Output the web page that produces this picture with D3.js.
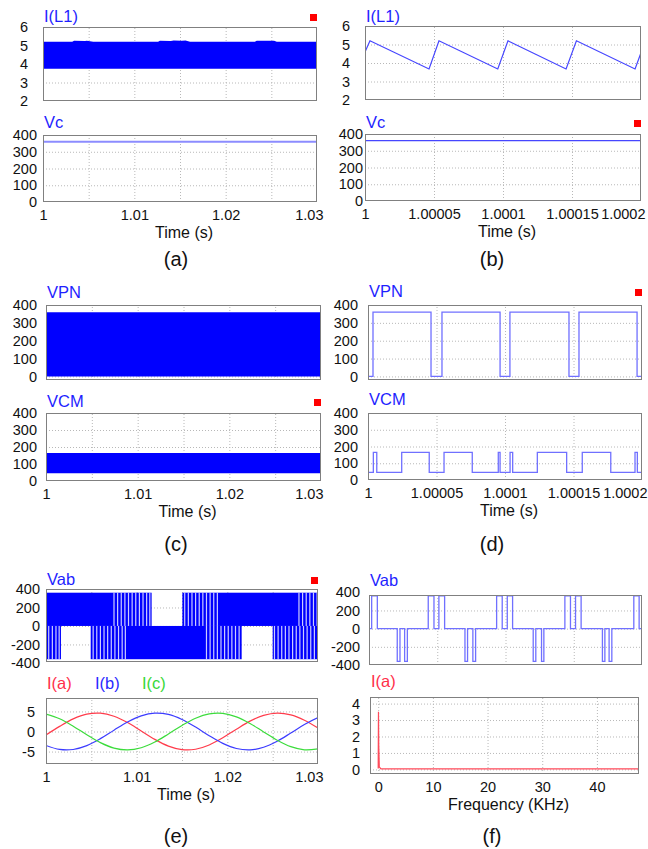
<!DOCTYPE html>
<html>
<head>
<meta charset="utf-8">
<script src="https://cdn.jsdelivr.net/npm/d3@7"></script>
<style>
    body { margin: 0; background: #fff; }
    svg { display: block; }
    text { font-family: Arial, "Liberation Sans", sans-serif; }
</style>
</head>
<body>
<svg id="chart" width="648" height="849"></svg>
<script>
'use strict';

// ---------- axes ----------
// long window: time in ms after t = 1 s
const longTickMs = [0, 10, 20, 30];
const longTickLabels = ['1', '1.01', '1.02', '1.03'];
const longGridMs = [5, 10, 15, 20, 25];
// short window: time in us after t = 1 s
const shortTickUs = [0, 50, 100, 150, 200];
const shortTickLabels = ['1', '1.00005', '1.0001', '1.00015', '1.0002'];
const shortGridUs = [50, 100, 150];
// spectrum axis, kHz
const freqTicks = [0, 10, 20, 30, 40];
const freqLabels = ['0', '10', '20', '30', '40'];

// ---------- (a) ----------
// I(L1) ripple band over 30 ms (upper edge, lower edge is flat)
const iL1BandMs = [0, 3.2, 3.4, 4.6, 4.8, 5.5, 12.6, 12.8, 14.0, 14.3, 15.2, 15.6, 16.1, 23.2, 23.4, 25.3, 25.6, 30];
const iL1BandHi = [5.2, 5.2, 5.26, 5.25, 5.26, 5.2, 5.2, 5.26, 5.25, 5.27, 5.26, 5.27, 5.2, 5.2, 5.26, 5.26, 5.2, 5.2];
const iL1BandLo = 3.75;
const vcLongMs = [0, 30];
const vcLong = [360, 360];

// ---------- (b) ----------
const iL1SawUs = [0, 3.6, 46.4, 53.6, 96.2, 103.6, 145.7, 153.2, 195.7, 200];
const iL1Saw = [4.6, 5.2, 3.68, 5.2, 3.68, 5.2, 3.68, 5.2, 3.68, 4.55];
const vcShortUs = [0, 200];
const vcShort = [360, 360];

// ---------- (c) ----------
const vpnBandMs = [0, 30];
const vpnBandLo = [0, 0];
const vpnBandHi = [360, 360];
const vcmBandMs = [0, 30];
const vcmBandLo = [45, 45];
const vcmBandHi = [165, 165];

// ---------- (d) step signals: level holds from each edge to the next ----------
const vpnEdgesUs = [0, 3.65, 46, 54, 96.4, 103.6, 146.7, 154, 196.4, 200];
const vpnLevels = [0, 360, 0, 360, 0, 360, 0, 360, 0, 0];
const vcmEdgesUs = [0, 3.9, 6.4, 24.6, 44.7, 55.5, 76.1, 95.1, 96.4, 103.7, 105.6, 123.6, 145, 156.4, 177.2, 194.9, 196.6, 200];
const vcmLevels = [45, 165, 45, 165, 45, 165, 45, 165, 45, 165, 45, 165, 45, 165, 45, 165, 45, 45];

// ---------- (e) ----------
// Vab PWM: spans where the +360 / -360 pulses are present (ms)
const vabLevel = 360;
const vabPosOn = [[0, 11.65], [15.04, 30]];
const vabNegOn = [[0, 1.65], [4.93, 21.58], [25.0, 30]];
// visible white gaps inside the pulse trains (ms)
const vabPosGaps = [7.5, 7.9, 8.3, 8.7, 9.1, 9.5, 9.9, 10.3, 10.7, 11.1, 11.45,
    15.3, 15.7, 16.1, 16.5, 16.9, 17.3, 17.7, 18.1, 18.5, 18.9,
    27.9, 28.3, 28.7, 29.1, 29.5, 29.9];
const vabNegGaps = [0.3, 0.7, 1.1, 1.45,
    5.2, 5.6, 6.0, 6.4, 6.8, 7.2, 7.6, 8.0, 8.4, 8.75,
    17.7, 18.1, 18.5, 18.9, 19.3, 19.7, 20.1, 20.5, 20.9, 21.3,
    25.2, 25.6, 26.0, 26.4, 26.8, 27.2, 27.6, 28.0, 28.4, 28.8, 29.2, 29.6];
// phase currents, sampled every 1.5 ms
const iPhaseMs = [0, 1.5, 3, 4.5, 6, 7.5, 9, 10.5, 12, 13.5, 15, 16.5, 18, 19.5, 21, 22.5, 24, 25.5, 27, 28.5, 30];
const iA = [-0.86, 1.28, 3.15, 4.33, 4.56, 3.80, 2.22, 0.14, -1.96, -3.63, -4.52, -4.42, -3.35, -1.56, 0.58, 2.59, 4.03, 4.60, 4.16, 2.82, 0.86];
const iB = [-3.48, -4.47, -4.48, -3.51, -1.78, 0.34, 2.38, 3.91, 4.58, 4.26, 3.01, 1.10, -1.05, -2.97, -4.24, -4.59, -3.93, -2.42, -0.38, 1.74, 3.48];
const iC = [4.34, 3.18, 1.33, -0.81, -2.78, -4.14, -4.60, -4.05, -2.63, -0.62, 1.51, 3.32, 4.40, 4.53, 3.66, 2.00, -0.10, -2.17, -3.78, -4.56, -4.34];

// ---------- (f) ----------
const vabEdgesUs = [0, 1.95, 6.1, 20.7, 22.7, 26.1, 28.1, 43.4, 47.6, 51.2, 55.4, 70.3, 72.2, 76.1, 78.1, 93.5, 97.6,
    101.3, 105.2, 120.3, 122.2, 126.4, 128.1, 143.5, 147.6, 151.3, 155.4, 171.0, 172.8, 175.9, 177.9, 194.0, 197.9, 200];
const vabLevels = [0, 360, 0, -360, 0, -360, 0, 360, 0, 360, 0, -360, 0, -360, 0, 360, 0,
    360, 0, -360, 0, -360, 0, 360, 0, 360, 0, -360, 0, -360, 0, 360, 0, 0];
const specKHz = [0, 0.05, 0.1, 0.2, 0.5, 48];
const specAmp = [0.05, 3.5, 1.5, 0.15, 0.03, 0.03];

const captions = ['(a)', '(b)', '(c)', '(d)', '(e)', '(f)'];

// ---------- drawing ----------
const FILL = '#0000ff';
const TITLE = '#1f1fff';
const RED = '#ff2f4a';
const GREEN = '#38d838';

const svg = d3.select('#chart');
let clipCount = 0;

const zip = (xs, ys) => xs.map((v, i) => [v, ys[i]]);

function panel(o) {
    const [x0, y0, x1, y1] = o.box;
    const g = svg.append('g');
    const x = d3.scaleLinear().domain(o.xDomain).range([x0, x1]);
    const y = d3.scaleLinear().domain(o.yDomain).range([y1, y0]);

    const grid = g.append('g');
    grid.append('g')
        .attr('transform', `translate(0,${y1})`)
        .call(d3.axisBottom(x).tickValues(o.xGrid).tickSize(-(y1 - y0)).tickFormat(''));
    grid.append('g')
        .attr('transform', `translate(${x0},0)`)
        .call(d3.axisLeft(y).tickValues(o.yGrid).tickSize(-(x1 - x0)).tickFormat(''));
    grid.selectAll('.domain').remove();
    grid.selectAll('line')
        .attr('stroke', '#b8b8b8')
        .attr('stroke-dasharray', '1,2');

    const id = 'clip' + (clipCount++);
    g.append('clipPath').attr('id', id)
        .append('rect')
        .attr('x', x0).attr('y', y0)
        .attr('width', x1 - x0).attr('height', y1 - y0);
    const plot = g.append('g').attr('clip-path', `url(#${id})`);

    g.append('rect')
        .attr('x', x0 + 0.5).attr('y', y0 + 0.5)
        .attr('width', x1 - x0 - 1).attr('height', y1 - y0 - 1)
        .attr('fill', 'none')
        .attr('stroke', '#808080');

    // y tick labels
    const ya = g.append('g')
        .attr('transform', `translate(${x0},0)`)
        .call(d3.axisLeft(y).tickValues(o.yTicks).tickFormat(d => String(d))
            .tickSize(0).tickPadding(o.labelGap));
    ya.select('.domain').remove();
    ya.attr('font-family', null).attr('font-size', 14.5);
    ya.selectAll('text').attr('fill', '#111');

    // x tick labels
    if (o.xTicks) {
        const xa = g.append('g')
            .attr('transform', `translate(0,${y1})`)
            .call(d3.axisBottom(x).tickValues(o.xTicks)
                .tickFormat((d, i) => o.xLabels[i]).tickSize(0).tickPadding(8));
        xa.select('.domain').remove();
        xa.attr('font-family', null).attr('font-size', 14.5);
        xa.selectAll('text')
            .attr('fill', '#111')
            .each(function (d) {
                const w = this.getComputedTextLength();
                const over = x(d) + w / 2 - o.labelRight;
                if (over > 0) d3.select(this).attr('x', -over);
            });
        g.append('text')
            .attr('x', (x0 + x1) / 2 + 4)
            .attr('y', y1 + 36)
            .attr('text-anchor', 'middle')
            .attr('font-size', 16)
            .attr('fill', '#111')
            .text(o.xTitle);
    }

    // trace names
    o.titles.forEach(t => {
        g.append('text')
            .attr('x', x0 + 1 + (t.dx || 0))
            .attr('y', o.titleY)
            .attr('font-size', 16.5)
            .attr('fill', t.color || TITLE)
            .text(t.text);
    });

    if (o.marker) {
        g.append('rect')
            .attr('x', x1 - 7).attr('y', o.titleY - 8)
            .attr('width', 7).attr('height', 7)
            .attr('fill', '#ff0000');
    }

    return {plot, x, y};
}

function band(p, ts, lo, hi) {
    const pts = ts.map((t, i) => ({t, lo: Array.isArray(lo) ? lo[i] : lo, hi: hi[i]}));
    p.plot.append('path')
        .datum(pts)
        .attr('fill', FILL)
        .attr('d', d3.area().x(d => p.x(d.t)).y0(d => p.y(d.lo)).y1(d => p.y(d.hi)));
}

function trace(p, pts, color, width, curve) {
    p.plot.append('path')
        .datum(pts)
        .attr('fill', 'none')
        .attr('stroke', color)
        .attr('stroke-width', width)
        .attr('d', d3.line().curve(curve || d3.curveLinear).x(d => p.x(d[0])).y(d => p.y(d[1])));
}

const long = {xDomain: [0, 30], xGrid: longGridMs};
const short = {xDomain: [0, 200], xGrid: shortGridUs};
const volt = [0, 100, 200, 300, 400];
const voltGrid = [100, 200, 300];

// (a)
const a1 = panel({...long, box: [43, 27, 317, 101], yDomain: [2, 6], yTicks: [2, 3, 4, 5, 6], yGrid: [3, 4, 5],
    labelGap: 15, titleY: 22, titles: [{text: 'I(L1)'}], marker: true});
band(a1, iL1BandMs, iL1BandLo, iL1BandHi);

const a2 = panel({...long, box: [43, 135, 317, 202], yDomain: [0, 400], yTicks: volt, yGrid: voltGrid,
    labelGap: 6, titleY: 128, titles: [{text: 'Vc'}],
    xTicks: longTickMs, xLabels: longTickLabels, xTitle: 'Time (s)', labelRight: 323});
trace(a2, zip(vcLongMs, vcLong), '#8c8cff', 2);

// (b)
const b1 = panel({...short, box: [365, 26, 641, 100], yDomain: [2, 6], yTicks: [2, 3, 4, 5, 6], yGrid: [3, 4, 5],
    labelGap: 15, titleY: 22, titles: [{text: 'I(L1)'}]});
trace(b1, zip(iL1SawUs, iL1Saw), '#4646ff', 1.2);

const b2 = panel({...short, box: [365, 134, 641, 201], yDomain: [0, 400], yTicks: volt, yGrid: voltGrid,
    labelGap: 2, titleY: 128, titles: [{text: 'Vc'}], marker: true,
    xTicks: shortTickUs, xLabels: shortTickLabels, xTitle: 'Time (s)', labelRight: 645});
trace(b2, zip(vcShortUs, vcShort), '#4646ff', 1.2);

// (c)
const c1 = panel({...long, box: [46, 305, 321, 380], yDomain: [-20, 400], yTicks: volt, yGrid: [0, 100, 200, 300],
    labelGap: 9, titleY: 298, titles: [{text: 'VPN'}]});
band(c1, vpnBandMs, vpnBandLo, vpnBandHi);

const c2 = panel({...long, box: [46, 413, 321, 481], yDomain: [0, 400], yTicks: volt, yGrid: voltGrid,
    labelGap: 9, titleY: 407, titles: [{text: 'VCM'}], marker: true,
    xTicks: longTickMs, xLabels: longTickLabels, xTitle: 'Time (s)', labelRight: 323});
band(c2, vcmBandMs, vcmBandLo, vcmBandHi);

// (d)
const d1 = panel({...short, box: [368, 305, 642, 380], yDomain: [-20, 400], yTicks: volt, yGrid: [0, 100, 200, 300],
    labelGap: 10, titleY: 297, titles: [{text: 'VPN'}], marker: true});
trace(d1, zip(vpnEdgesUs, vpnLevels), '#7070ff', 1.3, d3.curveStepAfter);

const d2 = panel({...short, box: [368, 413, 642, 480], yDomain: [0, 400], yTicks: volt, yGrid: voltGrid,
    labelGap: 10, titleY: 405, titles: [{text: 'VCM'}],
    xTicks: shortTickUs, xLabels: shortTickLabels, xTitle: 'Time (s)', labelRight: 647});
trace(d2, zip(vcmEdgesUs, vcmLevels), '#7070ff', 1.3, d3.curveStepAfter);

// (e)
const e1 = panel({...long, box: [46, 589, 318, 662], yDomain: [-390, 400], yTicks: [-400, -200, 0, 200, 400],
    yGrid: [-200, 0, 200], labelGap: 6, titleY: 585, titles: [{text: 'Vab'}], marker: true});
[[vabPosOn, vabPosGaps, vabLevel], [vabNegOn, vabNegGaps, -vabLevel]].forEach(([spans, gaps, lvl]) => {
    const top = Math.min(e1.y(lvl), e1.y(0));
    const h = Math.abs(e1.y(lvl) - e1.y(0));
    e1.plot.append('g').selectAll('rect')
        .data(spans)
        .join('rect')
        .attr('x', d => e1.x(d[0]))
        .attr('width', d => e1.x(d[1]) - e1.x(d[0]))
        .attr('y', top)
        .attr('height', h)
        .attr('fill', FILL);
    e1.plot.append('g').selectAll('rect')
        .data(gaps)
        .join('rect')
        .attr('x', d => e1.x(d) - 0.6)
        .attr('width', 1.2)
        .attr('y', top)
        .attr('height', h)
        .attr('fill', '#ffffff')
        .attr('opacity', 0.8);
});

const e2 = panel({...long, box: [46, 698, 318, 764], yDomain: [-8.1, 8.35], yTicks: [-5, 0, 5], yGrid: [-5, 0, 5],
    labelGap: 11, titleY: 689,
    titles: [{text: 'I(a)', color: RED}, {text: 'I(b)', color: '#2a2aff', dx: 48}, {text: 'I(c)', color: GREEN, dx: 95}],
    xTicks: longTickMs, xLabels: longTickLabels, xTitle: 'Time (s)', labelRight: 323});
trace(e2, zip(iPhaseMs, iA), '#ff3b4b', 1.2, d3.curveCatmullRom);
trace(e2, zip(iPhaseMs, iB), '#3c3cff', 1.2, d3.curveCatmullRom);
trace(e2, zip(iPhaseMs, iC), '#3cdc3c', 1.2, d3.curveCatmullRom);

// (f)
const f1 = panel({...short, box: [369, 595, 642, 665], yDomain: [-400, 370], yTicks: [-400, -200, 0, 200, 400],
    yGrid: [-200, 0, 200], labelGap: 9, titleY: 586, titles: [{text: 'Vab'}]});
trace(f1, zip(vabEdgesUs, vabLevels), '#7070ff', 1.3, d3.curveStepAfter);

const f2 = panel({xDomain: [-1.5, 47.7], xGrid: freqTicks, box: [370, 697, 639, 774], yDomain: [-0.28, 4.4],
    yTicks: [0, 1, 2, 3, 4], yGrid: [0, 1, 2, 3, 4], labelGap: 10, titleY: 687,
    titles: [{text: 'I(a)', color: RED}],
    xTicks: freqTicks, xLabels: freqLabels, xTitle: 'Frequency (KHz)', labelRight: 647});
trace(f2, zip(specKHz, specAmp), '#ff4a5a', 1.2);

// sub-figure captions
const capX = [176, 492];
const capY = [266, 551, 843];
svg.append('g').selectAll('text')
    .data(captions)
    .join('text')
    .attr('x', (d, i) => capX[i % 2])
    .attr('y', (d, i) => capY[Math.floor(i / 2)])
    .attr('text-anchor', 'middle')
    .attr('font-family', '"Liberation Serif", "Times New Roman", serif')
    .attr('font-size', 20)
    .attr('fill', '#111')
    .text(d => d);
</script>
</body>
</html>
